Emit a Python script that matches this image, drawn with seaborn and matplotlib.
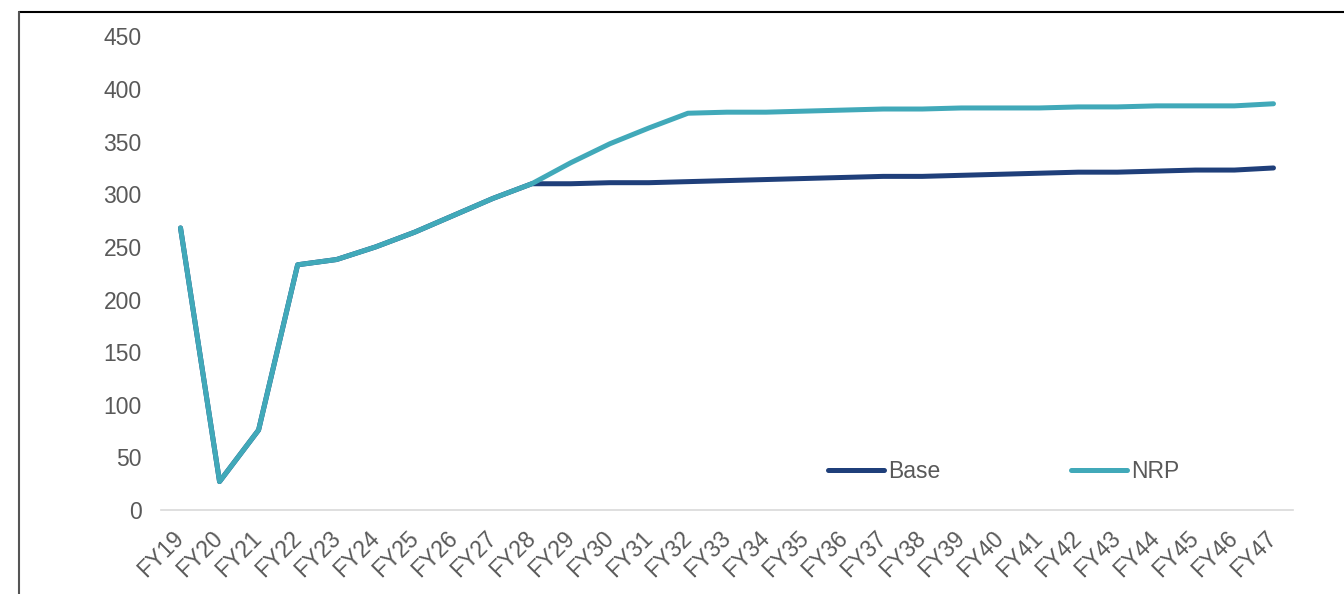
import matplotlib
matplotlib.use("Agg")
import matplotlib.pyplot as plt
import seaborn as sns
import pandas as pd
from matplotlib.lines import Line2D

years = [f"FY{n}" for n in range(19, 48)]
base = [268, 27, 76, 233, 238, 250, 264, 280, 296, 310,
        310, 311, 311, 312, 313, 314, 315, 316, 317, 317,
        318, 319, 320, 321, 321, 322, 323, 323, 325]
nrp = [268, 27, 76, 233, 238, 250, 264, 280, 296, 310,
       330, 348, 363, 377, 378, 378, 379, 380, 381, 381,
       382, 382, 382, 383, 383, 384, 384, 384, 386]
series_names = ["Base", "NRP"]
colors = {"Base": "#1F3F7A", "NRP": "#41A9B9"}
yticks = [0, 50, 100, 150, 200, 250, 300, 350, 400, 450]

df = pd.DataFrame({
    "year": years * 2,
    "value": base + nrp,
    "series": ["Base"] * len(years) + ["NRP"] * len(years),
})

sns.set_theme(style="white")
plt.rcParams['font.family'] = ['Liberation Sans', 'DejaVu Sans']

FS = 16.5
LW = 3.6
fig = plt.figure(figsize=(13.44, 5.94), dpi=100)
ax = fig.add_axes([161/1344, 1 - 510/594, (1293-161)/1344, (510-36.4)/594])

sns.lineplot(data=df, x="year", y="value", hue="series", hue_order=series_names,
             palette=colors, sort=False, linewidth=LW, ax=ax, legend=False)
for ln in ax.get_lines():
    ln.set_solid_capstyle("round")
    ln.set_solid_joinstyle("round")
ax.get_lines()[1].set_zorder(3)

ax.set_xlim(-0.5, len(years) - 0.5)
ax.set_ylim(0, 450)
ax.set_yticks(yticks)
ax.set_xlabel("")
ax.set_ylabel("")
for s in ["top", "right", "left"]:
    ax.spines[s].set_visible(False)
ax.spines["bottom"].set_color("#D9D9D9")
ax.spines["bottom"].set_linewidth(1.2)
ax.tick_params(axis="both", length=0, colors="#595959", labelsize=FS)
ax.tick_params(axis="y", pad=14)
ax.set_xticks(range(len(years)))
ax.set_xticklabels(years, rotation=45, ha="right", rotation_mode="anchor")
for lab in ax.get_xticklabels():
    lab.set_va("center")
ax.tick_params(axis="x", pad=18)

handles = [Line2D([0], [0], color=colors[n], lw=LW, solid_capstyle="round") for n in series_names]
leg = fig.legend(handles, series_names, loc="center left",
                 bbox_to_anchor=(828/1344, 1 - 472/594), bbox_transform=fig.transFigure,
                 ncol=2, frameon=False, fontsize=FS, handlelength=2.45,
                 handletextpad=0.18, columnspacing=5.7, borderpad=0, borderaxespad=0)
for t in leg.get_texts():
    t.set_color("#595959")

# outer border (top and left visible)
fig.add_artist(Line2D([19/1344, 1.0], [1 - 12/594, 1 - 12/594], transform=fig.transFigure,
                      color="black", lw=1.5))
fig.add_artist(Line2D([19/1344, 19/1344], [1 - 12/594, 0.0], transform=fig.transFigure,
                      color="#555555", lw=1.5))

fig.savefig("out.png", dpi=100)
